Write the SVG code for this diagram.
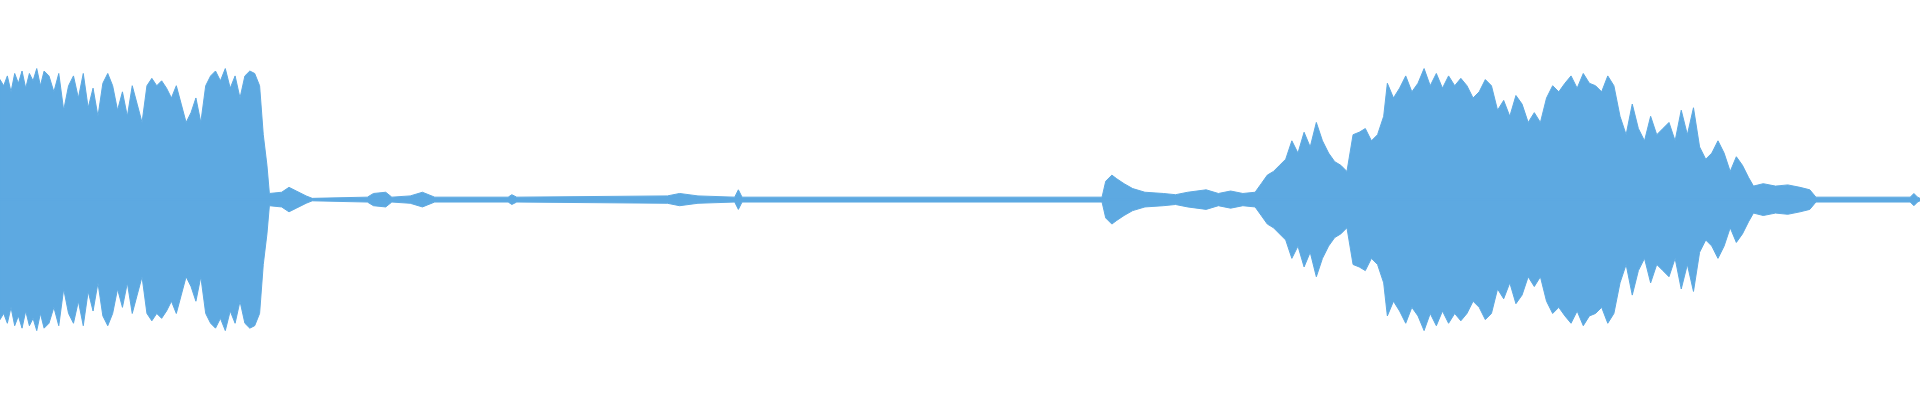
<svg xmlns="http://www.w3.org/2000/svg" xmlns:xlink="http://www.w3.org/1999/xlink" width="1920" height="400" viewBox="0 0 1920 400">
<style>.w{fill:#5DA9E1;stroke:#5DA9E1;stroke-width:0.8;stroke-linejoin:miter}</style>
<rect width="1920" height="400" fill="#fff"/>
<defs>
<path id="top" class="w" d="M0,163 L0,65 L3,70 L6,62 L9,75 L12,60 L15,68 L18,58 L21,72 L24,60 L27,66 L30,56 L33,70 L36,58 L40,62 L44,75 L48,60 L52,90 L56,70 L60,62 L64,80 L68,60 L72,88 L76,72 L80,95 L84,68 L88,60 L92,70 L96,90 L100,75 L104,95 L108,70 L112,85 L116,100 L120,70 L124,64 L128,70 L132,66 L136,72 L140,80 L144,70 L148,85 L152,100 L156,92 L160,80 L164,100 L168,70 L172,62 L176,58 L180,66 L184,56 L188,72 L192,62 L196,80 L200,62 L204,58 L208,60 L212,70 L215,110 L218,135 L220,158 L230,157 L236,153 L242,156 L250,160 L255,162 L300,161 L305,158 L315,157 L320,161 L335,160 L345,157 L355,161 L415,161 L418,159 L422,161 L545,160 L555,158 L570,160 L600,161 L603,155 L606,161 L900,161 L903,148 L908,143 L912,146 L918,150 L925,154 L935,157 L950,158 L960,159 L970,157 L985,155 L995,158 L1005,156 L1015,158 L1025,157 L1030,150 L1035,143 L1040,140 L1045,135 L1050,130 L1055,115 L1060,125 L1065,108 L1070,120 L1075,100 L1080,115 L1085,125 L1090,132 L1095,135 L1100,140 L1105,110 L1110,108 L1115,105 L1120,115 L1125,110 L1130,95 L1133,68 L1138,80 L1143,72 L1148,62 L1153,75 L1158,68 L1163,56 L1168,70 L1173,60 L1178,72 L1183,62 L1188,70 L1193,64 L1198,70 L1203,80 L1208,75 L1213,65 L1218,70 L1223,90 L1228,82 L1233,95 L1238,78 L1243,85 L1248,100 L1253,92 L1258,100 L1263,80 L1268,70 L1273,75 L1278,68 L1283,62 L1288,72 L1293,60 L1298,68 L1303,70 L1308,75 L1313,62 L1318,70 L1323,95 L1328,110 L1333,85 L1338,105 L1343,115 L1348,95 L1353,110 L1358,105 L1363,100 L1368,115 L1373,90 L1378,110 L1383,88 L1388,120 L1393,130 L1398,125 L1403,115 L1408,125 L1413,140 L1418,128 L1423,135 L1428,145 L1432,152 L1440,150 L1450,152 L1460,151 L1470,153 L1478,155 L1483,161 L1560,161 L1563,158 L1566,161 L1568,162 L1568,163 Z"/>
</defs>
<g id="waveform" transform="scale(1.2245)">
<use xlink:href="#top"/>
<use xlink:href="#top" transform="matrix(1,0,0,-1,0,326)"/>
<line x1="0" y1="163" x2="1568" y2="163" stroke="#5DA9E1" stroke-width="1.2"/>
</g>
</svg>
